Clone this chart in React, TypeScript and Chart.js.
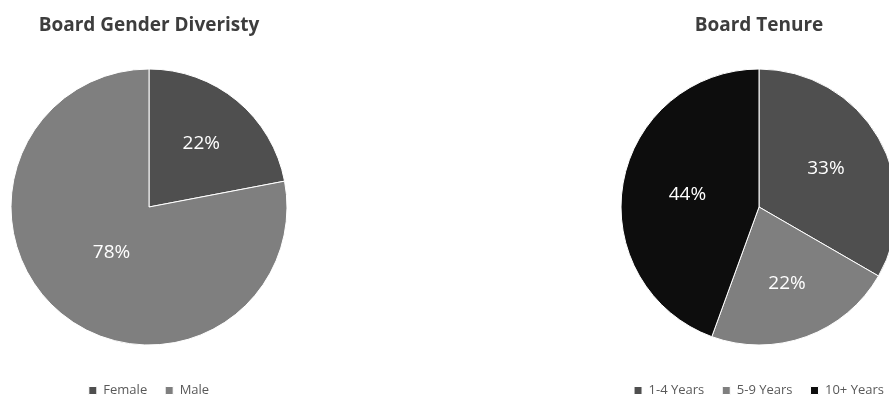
import React, { useEffect, useRef } from 'react';
import { Chart, registerables } from 'chart.js';

Chart.register(...registerables);

const genderLabels = ['Female', 'Male'];
const genderShares = [22, 78];
const genderColors = ['#4f4f4f', '#7f7f7f'];

const tenureLabels = ['1-4 Years', '5-9 Years', '10+ Years'];
const tenureShares = [33, 22, 44];
const tenureColors = ['#4f4f4f', '#7f7f7f', '#0d0d0d'];

const FONT = '"Open Sans", "DejaVu Sans", sans-serif';
const CANVAS_W = 298;
const CANVAS_H = 407; // the frame clips the last few pixels below the legend

// Writes each slice's percentage inside the slice, a bit closer to the
// centre for the larger slices.
const sliceLabels = {
  id: 'sliceLabels',
  afterDatasetsDraw(chart: any) {
    const { ctx } = chart;
    const meta = chart.getDatasetMeta(0);
    const values = chart.data.datasets[0].data as number[];
    ctx.save();
    ctx.font = `19px ${FONT}`;
    ctx.fillStyle = '#ffffff';
    ctx.textAlign = 'center';
    ctx.textBaseline = 'middle';
    meta.data.forEach((arc: any, i: number) => {
      const { x, y, startAngle, endAngle, outerRadius } = arc.getProps(
        ['x', 'y', 'startAngle', 'endAngle', 'outerRadius'],
        true
      );
      const mid = (startAngle + endAngle) / 2;
      const frac = (endAngle - startAngle) / (2 * Math.PI);
      const d = outerRadius * (0.66 - 0.3 * frac);
      ctx.fillText(`${values[i]}%`, x + Math.cos(mid) * d, y + Math.sin(mid) * d);
    });
    ctx.restore();
  },
};

type PieCardProps = {
  title: string;
  labels: string[];
  values: number[];
  colors: string[];
  left: number;
};

function PieCard({ title, labels, values, colors, left }: PieCardProps) {
  const ref = useRef<HTMLCanvasElement | null>(null);

  useEffect(() => {
    if (!ref.current) return;
    const chart = new Chart(ref.current, {
      type: 'pie',
      data: {
        labels,
        datasets: [
          {
            data: values,
            backgroundColor: colors,
            borderColor: '#ffffff',
            borderWidth: 1,
          },
        ],
      },
      options: {
        animation: false,
        responsive: false,
        radius: 138,
        layout: { padding: 0 },
        plugins: {
          title: {
            display: true,
            text: title,
            color: '#3d3d3d',
            font: { family: FONT, size: 19, weight: 'bold' },
            padding: { top: 14, bottom: 11.2 },
          },
          legend: {
            position: 'bottom',
            labels: {
              color: '#595959',
              font: { family: FONT, size: 13 },
              boxWidth: 8,
              boxHeight: 8,
              padding: 18,
            },
          },
          tooltip: { enabled: false },
        },
      } as any,
      plugins: [sliceLabels],
    });
    return () => chart.destroy();
  }, []);

  return (
    <canvas
      ref={ref}
      width={CANVAS_W}
      height={CANVAS_H}
      style={{ position: 'absolute', left, top: 0, width: CANVAS_W, height: CANVAS_H }}
    />
  );
}

export default function App() {
  return (
    <div
      style={{
        position: 'fixed',
        left: 0,
        top: 0,
        width: 889,
        height: 396,
        overflow: 'hidden',
        background: '#ffffff',
      }}
    >
      <PieCard
        title="Board Gender Diveristy"
        labels={genderLabels}
        values={genderShares}
        colors={genderColors}
        left={0}
      />
      <PieCard
        title="Board Tenure"
        labels={tenureLabels}
        values={tenureShares}
        colors={tenureColors}
        left={610}
      />
    </div>
  );
}
